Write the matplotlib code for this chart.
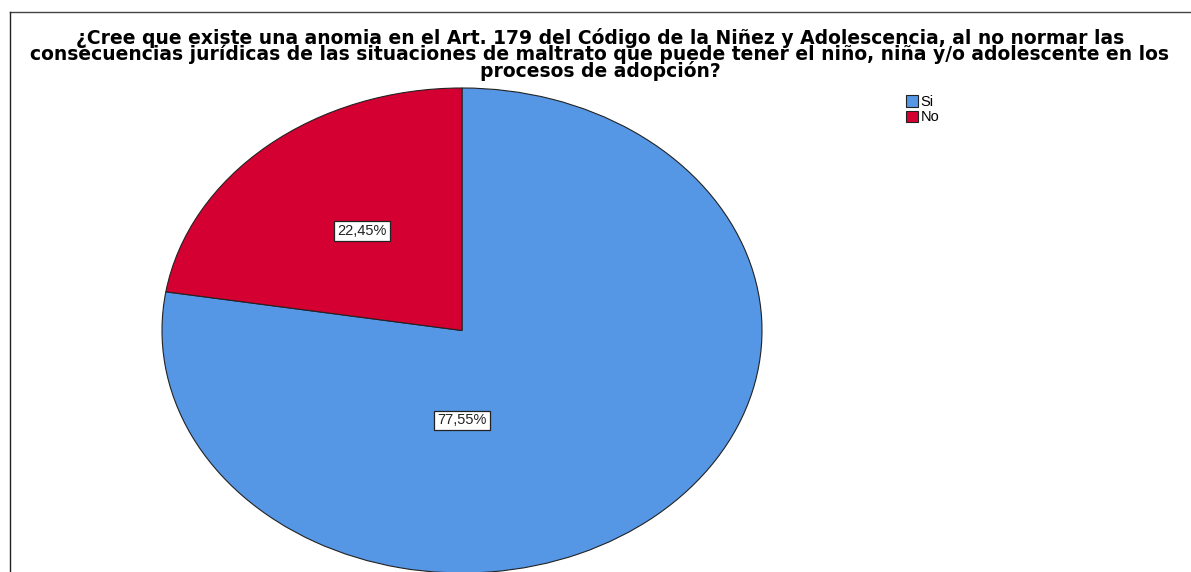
import matplotlib.pyplot as plt
from matplotlib.lines import Line2D
import numpy as np

# data
categories = ["Si", "No"]
percentages = [77.55, 22.45]
colors = ["#5596E5", "#D50032"]
title = ("¿Cree que existe una anomia en el Art. 179 del Código de la Niñez y Adolescencia, al no normar las\n"
         "consecuencias jurídicas de las situaciones de maltrato que puede tener el niño, niña y/o adolescente en los\n"
         "procesos de adopción?")

plt.rcParams['font.family'] = ['DejaVu Sans']

W, H = 1191, 572
fig = plt.figure(figsize=(W / 100, H / 100), dpi=100)

# pie axes stretched so the circle becomes the SPSS-style ellipse
ax = fig.add_axes([162 / W, (H - 573) / H, 600 / W, 485 / H])
wedges, _ = ax.pie(percentages, colors=colors, startangle=90, counterclock=False,
                   wedgeprops=dict(edgecolor="#222222", linewidth=0.8))
ax.set_aspect('auto')
ax.set_xlim(-1, 1)
ax.set_ylim(-1, 1)
for w in wedges:
    w.set_clip_on(False)

# label positions (radius, angle) in the unit pie
label_pos = [(0.371, -90.0), (0.53, 129.0)]
for pct, (r, ang) in zip(percentages, label_pos):
    a = np.deg2rad(ang)
    ax.text(r * np.cos(a), r * np.sin(a), f"{pct:.2f}%".replace(".", ","),
            ha="center", va="center", fontsize=10.5, color="#222222",
            family=["Liberation Sans", "DejaVu Sans"],
            bbox=dict(boxstyle="square,pad=0.2", facecolor="white",
                      edgecolor="#222222", linewidth=0.9))

fig.text(600 / W, 1 - 28 / H, title, ha="center", va="top", fontsize=13.5,
         fontweight="bold", linespacing=0.8)

leg = fig.legend(wedges, categories, loc="upper left", bbox_to_anchor=(906 / W, 1 - 95 / H),
                 frameon=False, prop=dict(family=["Liberation Sans", "DejaVu Sans"], size=10.5),
                 handlelength=0.8, handleheight=0.8,
                 handletextpad=0.2, labelspacing=0.1, borderpad=0, borderaxespad=0)
for p in leg.get_patches():
    p.set_edgecolor("#222222")
    p.set_linewidth(0.8)

# outer frame (top and left visible)
fig.add_artist(Line2D([10 / W, 1], [1 - 12 / H, 1 - 12 / H], transform=fig.transFigure,
                      color="#444444", linewidth=1))
fig.add_artist(Line2D([10 / W, 10 / W], [1 - 12 / H, 0], transform=fig.transFigure,
                      color="#222222", linewidth=1))

fig.savefig("out.png", dpi=100)
